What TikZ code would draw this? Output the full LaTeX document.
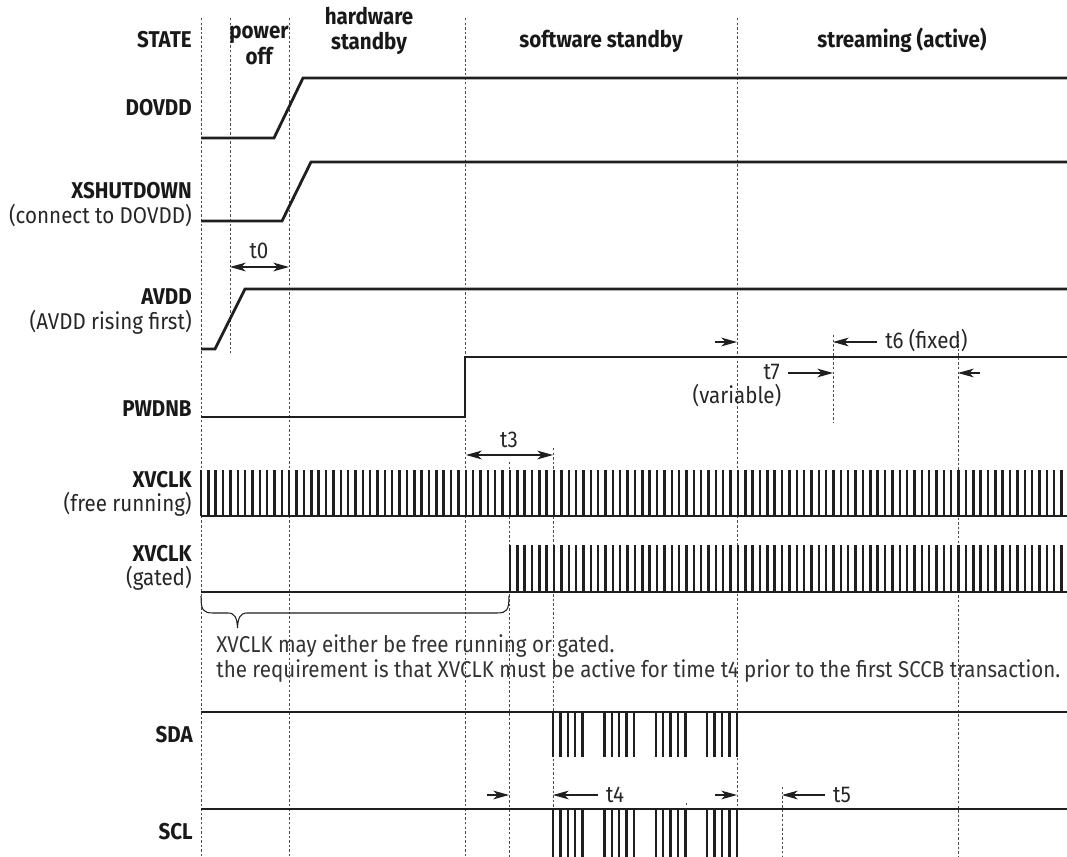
\documentclass[tikz,border=0pt]{standalone}
\usepackage{fontspec}
\setmainfont{Fira Sans}[FakeStretch=0.9]
\usetikzlibrary{arrows.meta}
\newcommand\tdfont{\fontsize{13pt}{15pt}\selectfont}

\begin{document}
\begin{tikzpicture}[x=0.02cm, y=-0.02cm,
    >={Stealth[length=9pt, width=5pt, inset=2.5pt]},
    sig/.style={line width=1.6pt, black!88},
    tick/.style={line width=1.4pt, black!88},
    guide/.style={line width=0.45pt, black!70, dash pattern=on 1.4pt off 1.2pt},
    dim/.style={line width=0.6pt, black!88},
    lbl/.style={anchor=base east, inner sep=0pt, font=\tdfont\bfseries, text=black!90},
    sub/.style={anchor=base east, inner sep=0pt, font=\tdfont, text=black!85},
    hdr/.style={anchor=base, inner sep=0pt, font=\tdfont\bfseries, text=black!90},
    tlbl/.style={anchor=base, inner sep=0pt, font=\tdfont, text=black!85},
    note/.style={anchor=base west, inner sep=0pt, font=\tdfont, text=black!80}]
        \useasboundingbox (0,0) rectangle (1067,857);

        \foreach \x/\ya/\yb in {201/18/857, 230/18/353, 289/18/857, 465/18/857,
                509/462/857, 553/448/857, 686/803/857, 737/18/857,
                782/787/857, 833/335/423, 958/335/857}
            \draw[guide] (\x,\ya) -- (\x,\yb);

        \node[lbl] (state) at (192,48) {STATE};
        \node[hdr] (poff1) at (259,39) {power};
        \node[hdr] (poff2) at (259,65) {off};
        \node[hdr] (hws1) at (369,25) {hardware};
        \node[hdr] (hws2) at (369,50) {standby};
        \node[hdr] (sws) at (601,48) {software standby};
        \node[hdr] (strm) at (902,48) {streaming (active)};

        \node[lbl] (dovdd) at (192,116) {DOVDD};
        \node[lbl] (xshut) at (192,199) {XSHUTDOWN};
        \node[sub] (xshutsub) at (192,224) {(connect to DOVDD)};
        \node[lbl] (avdd) at (192,305) {AVDD};
        \node[sub] (avddsub) at (192,330) {(AVDD rising first)};
        \node[lbl] (pwdnb) at (192,417) {PWDNB};
        \node[lbl] (clkfree) at (192,487) {XVCLK};
        \node[sub] (clkfreesub) at (192,511) {(free running)};
        \node[lbl] (clkgate) at (192,561) {XVCLK};
        \node[sub] (clkgatesub) at (192,585) {(gated)};
        \node[lbl] (sda) at (193,742) {SDA};
        \node[lbl] (scl) at (193,839) {SCL};

        % waveforms
        \draw[sig] (201,138) -- (274,138) -- (303,78) -- (1067,78);
        \draw[sig] (201,221) -- (282,221) -- (311,162) -- (1067,162);
        \draw[sig] (201,349) -- (215,349) -- (245,289) -- (1067,289);
        \draw[sig] (201,417) -- (465,417) -- (465,357) -- (1067,357);

        \draw[sig] (201,516) -- (1067,516);
        \foreach \k in {0,...,117}
            \draw[tick] ({201+7.355*\k},516) -- ({201+7.355*\k},470);
        \draw[sig] (201,592) -- (1067,592);
        \foreach \k in {42,...,117}
            \draw[tick] ({201+7.355*\k},592) -- ({201+7.355*\k},545);

        \draw[sig] (201,712) -- (1067,712);
        \draw[sig] (201,809) -- (1067,809);
        \foreach \b in {0,...,3}
            \foreach \i in {0,...,4} {
                \draw[tick] ({553+51.4*\b+7.4*\i},712) -- ({553+51.4*\b+7.4*\i},757);
                \draw[tick] ({553+51.4*\b+7.4*\i},809) -- ({553+51.4*\b+7.4*\i},857);
            }

        \draw[dim] (201,596) .. controls (201,610) and (203,613) .. (213,613)
            -- (228,613) .. controls (235,613) and (237,618) .. (237.5,628)
            .. controls (238,618) and (240,613) .. (247,613)
            -- (497,613) .. controls (507,613) and (509,610) .. (509,596);

        % timing marks
        \node[tlbl] (t0) at (259,259) {t0};
        \coordinate (t0a) at (230,267);
        \coordinate (t0b) at (289,267);
        \draw[dim, <->] (t0a) -- (t0b);

        \node[tlbl] (t3) at (509,448) {t3};
        \coordinate (t3a) at (466,455);
        \coordinate (t3b) at (553,455);
        \draw[dim, <->] (t3a) -- (t3b);

        \coordinate (t7a) at (715,342);
        \coordinate (t7b) at (737,342);
        \draw[dim, ->] (t7a) -- (t7b);
        \node[tlbl, anchor=base east] (t7) at (780,380) {t7};
        \node[tlbl] (t7sub) at (737,404) {(variable)};
        \coordinate (t7c) at (788,373);
        \coordinate (t7d) at (833,373);
        \draw[dim, ->] (t7c) -- (t7d);

        \node[tlbl, anchor=base west] (t6) at (885,349) {t6 (fixed)};
        \coordinate (t6a) at (877,342);
        \coordinate (t6b) at (833,342);
        \draw[dim, ->] (t6a) -- (t6b);
        \coordinate (t6c) at (980,373);
        \coordinate (t6d) at (958,373);
        \draw[dim, ->] (t6c) -- (t6d);

        \node[note] (note1) at (216,652) {XVCLK may either be free running or gated.};
        \node[note] (note2) at (216,677) {the requirement is that XVCLK must be active for time t4 prior to the first SCCB transaction.};

        \coordinate (t4a) at (487,795);
        \coordinate (t4b) at (509,795);
        \draw[dim, ->] (t4a) -- (t4b);
        \coordinate (t4c) at (598,795);
        \coordinate (t4d) at (553,795);
        \draw[dim, ->] (t4c) -- (t4d);
        \node[tlbl] (t4) at (615,802) {t4};
        \coordinate (t4e) at (715,795);
        \coordinate (t4f) at (737,795);
        \draw[dim, ->] (t4e) -- (t4f);

        \coordinate (t5a) at (825,795);
        \coordinate (t5b) at (782,795);
        \draw[dim, ->] (t5a) -- (t5b);
        \node[tlbl] (t5) at (842,802) {t5};
\end{tikzpicture}
\end{document}
